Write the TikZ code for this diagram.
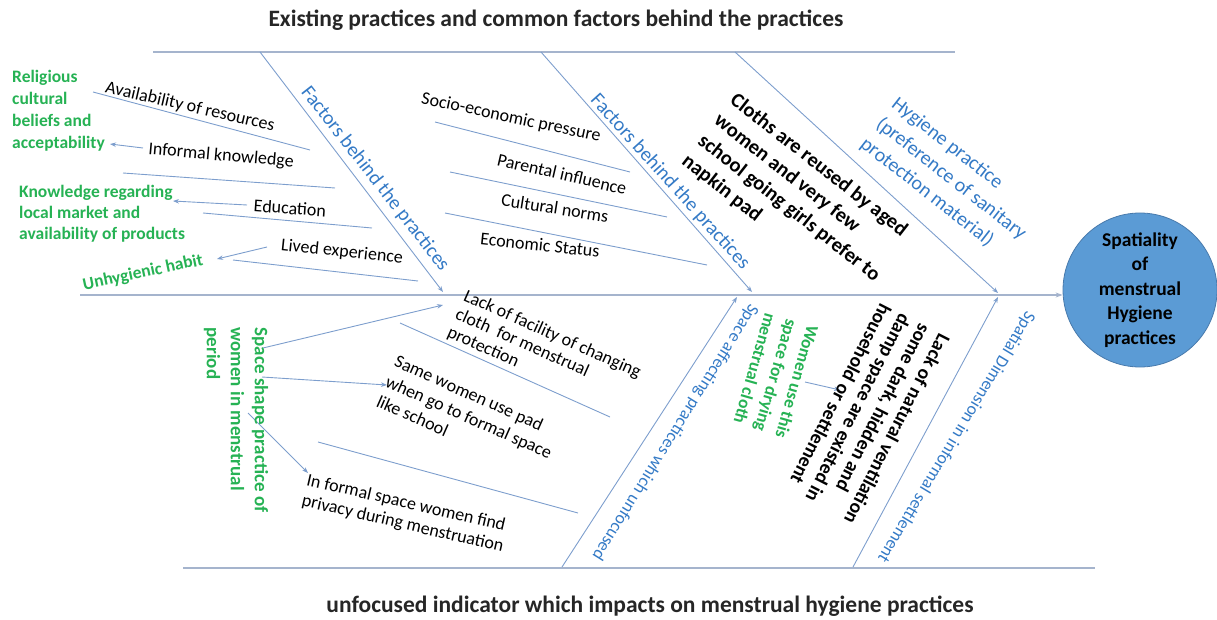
\documentclass[tikz,border=0pt]{standalone}
\usepackage{fontspec}
\setmainfont{Carlito}
\usetikzlibrary{arrows.meta}
\definecolor{lineblue}{RGB}{125,158,205}
\definecolor{rulegray}{RGB}{165,180,205}
\definecolor{txtblue}{RGB}{52,122,198}
\definecolor{txtgreen}{RGB}{38,178,84}
\definecolor{circfill}{RGB}{91,155,213}
\definecolor{circdraw}{RGB}{72,122,172}
\tikzset{
  bone/.style={draw=lineblue, line width=0.9pt},
  rulel/.style={draw=rulegray, line width=1.8pt},
  arr/.style={bone, -{Stealth[length=6pt,width=4.5pt]}},
  lbl/.style={inner sep=0pt, text=black, font=\fontsize{18}{20}\selectfont},
  lblbig/.style={inner sep=0pt, text=black, align=left},
  grn/.style={inner sep=0pt, text=txtgreen, font=\bfseries\fontsize{17.5}{22}\selectfont},
  blu/.style={inner sep=0pt, text=txtblue, font=\fontsize{20}{25.5}\selectfont},
  blus/.style={inner sep=0pt, text=txtblue, font=\fontsize{17.5}{20}\selectfont},
  ttl/.style={inner sep=0pt, text=black!85, font=\bfseries\fontsize{23.5}{27}\selectfont},
}
\begin{document}
\begin{tikzpicture}[x=1pt,y=-1pt]
\useasboundingbox (0,0) rectangle (1217,620);
% goal
\node[circle, fill=circfill, draw=circdraw, line width=0.8pt, minimum size=154pt, inner sep=0pt,
      align=center, font=\bfseries\fontsize{19.5}{24.5}\selectfont] (goal) at (1140,290)
      {Spatiality\\of\\menstrual\\Hygiene\\practices};
% rules
\coordinate (rt0) at (153,52); \coordinate (rt1) at (955,52);
\coordinate (rb0) at (183,568); \coordinate (rb1) at (1095,568);
\draw[rulel] (rt0) -- (rt1);
\draw[rulel] (rb0) -- (rb1);
% spine
\coordinate (sp0) at (80,295);
\draw[rulel, line width=1.3pt, -{Stealth[length=7pt,width=5pt]}] (sp0) -- (sp0 -| goal.west);
% bones
\coordinate (t1a) at (260,52); \coordinate (t1b) at (443,292);
\coordinate (t2a) at (541,52); \coordinate (t2b) at (752,292);
\coordinate (t3a) at (735,52); \coordinate (t3b) at (998,293);
\coordinate (b1a) at (562,567); \coordinate (b1b) at (737,297);
\coordinate (b2a) at (853,567); \coordinate (b2b) at (998,297);
\draw[arr] (t1a) -- (t1b);
\draw[arr] (t2a) -- (t2b);
\draw[arr] (t3a) -- (t3b);
\draw[arr] (b1a) -- (b1b);
\draw[arr] (b2a) -- (b2b);
% sub lines
\coordinate (s1a) at (93,92);   \coordinate (s1b) at (310,150);
\coordinate (s2a) at (123,173); \coordinate (s2b) at (335,188);
\coordinate (s3a) at (203,213); \coordinate (s3b) at (372,228);
\coordinate (s4a) at (233,260); \coordinate (s4b) at (418,281);
\coordinate (s5a) at (435,122); \coordinate (s5b) at (630,172);
\coordinate (s6a) at (450,172); \coordinate (s6b) at (667,217);
\coordinate (s7a) at (445,213); \coordinate (s7b) at (707,265);
\coordinate (s8a) at (400,323); \coordinate (s8b) at (610,417);
\coordinate (s9a) at (318,442); \coordinate (s9b) at (578,513);
\foreach \s in {1,...,9} {\draw[bone] (s\s a) -- (s\s b);}
% arrows
\coordinate (a1a) at (143,148); \coordinate (a1b) at (110,144);
\coordinate (a2a) at (247,205); \coordinate (a2b) at (173,201);
\coordinate (a3a) at (267,247); \coordinate (a3b) at (217,259);
\coordinate (a4a) at (263,348); \coordinate (a4b) at (443,305);
\coordinate (a5a) at (262,377); \coordinate (a5b) at (387,385);
\coordinate (a6a) at (248,413); \coordinate (a6b) at (308,473);
\coordinate (a7a) at (805,382); \coordinate (a7b) at (840,390);
\foreach \s in {1,...,7} {\draw[arr] (a\s a) -- (a\s b);}
% titles
\node[ttl] (ttop) at (556,20) {Existing practices and common factors behind the practices};
\node[ttl] (tbot) at (650,606) {unfocused indicator which impacts on menstrual hygiene practices};
% green
\node[grn, anchor=west, align=left] (g1) at (12,111) {Religious\\cultural\\beliefs and\\acceptability};
\node[grn, anchor=west, align=left, font=\bfseries\fontsize{17.5}{21}\selectfont] (g2) at (19,214) {Knowledge regarding\\local market and\\availability of products};
\node[grn, rotate=12] (g3) at (143,273) {Unhygienic habit};
\node[grn, rotate=-90, align=left, font=\bfseries\fontsize{19}{24}\selectfont] (g4) at (236,420) {Space shape practice of\\women in menstrual\\period};
\node[grn, rotate=-106, align=left] (g5) at (776,376) {Women use this\\space for drying\\menstrual cloth};
% blue
\node[blu, rotate=-52] (f1) at (375,179) {Factors behind the practices};
\node[blu, rotate=-48] (f2) at (670,182) {Factors behind the practices};
\node[blu, rotate=-38, align=left] (hp) at (951,179) {Hygiene practice\\(preference of sanitary\\protection material)};
\node[blus, rotate=-122] (sa) at (675,432) {Space affecting practices which unfocused};
\node[blus, rotate=-121] (sd) at (956,437) {Spatial Dimension in informal settlement};
% black labels
\node[lbl, rotate=-13] (k1) at (190,107) {Availability of resources};
\node[lbl, rotate=-5] (k2) at (221,156) {Informal knowledge};
\node[lbl, rotate=-4] (k3) at (290,208) {Education};
\node[lbl, rotate=-6] (k4) at (342,252) {Lived experience};
\node[lbl, rotate=-12] (k5) at (511,118) {Socio-economic pressure};
\node[lbl, rotate=-13] (k6) at (562,174) {Parental influence};
\node[lbl, rotate=-9] (k7) at (555,208) {Cultural norms};
\node[lbl, rotate=-6] (k8) at (540,245) {Economic Status};
\node[lblbig, rotate=-38, font=\bfseries\fontsize{20.5}{26}\selectfont] (k9) at (797,198) {Cloths are reused by aged\\women and very few\\school going girls prefer to\\napkin pad};
\node[lblbig, rotate=-117, font=\bfseries\fontsize{19.5}{22}\selectfont] (k10) at (868,414) {Lack of natural ventilation\\some dark, hidden and\\damp space are existed in\\household or settlement};
\node[lblbig, rotate=-24, font=\fontsize{18}{20}\selectfont] (k11) at (544,353) {Lack of facility of changing\\cloth\ \ for menstrual\\protection};
\node[lblbig, rotate=-24, font=\fontsize{18}{22}\selectfont] (k12) at (469,417) {Same women use pad\\when go to formal space\\like school};
\node[lblbig, rotate=-13, font=\fontsize{18}{21}\selectfont] (k13) at (405,514) {In formal space women find\\privacy during menstruation};
\end{tikzpicture}
\end{document}
